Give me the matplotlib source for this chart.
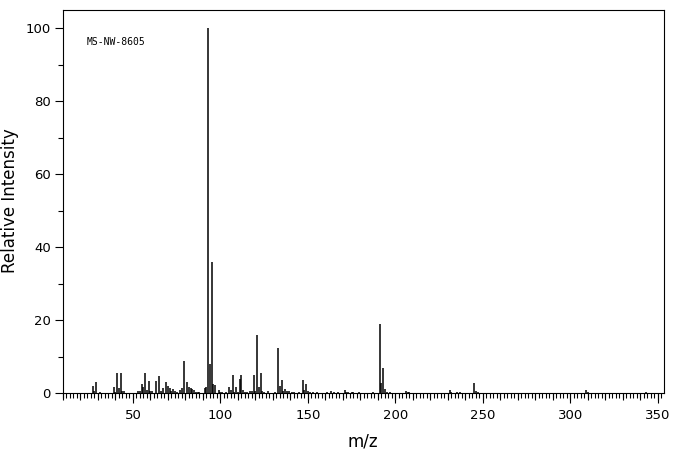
import matplotlib
matplotlib.use("Agg")

import matplotlib.pyplot as plt
from matplotlib.ticker import MultipleLocator, NullFormatter

# mass spectrum peaks (m/z, relative intensity)
mz = [27, 28, 29, 31, 39, 40, 41, 42, 43, 44, 45, 53, 54, 55, 56, 57, 58, 59,
      60, 61, 63, 65, 66, 67, 69, 70, 71, 72, 73, 74, 75, 77, 78, 79, 81, 82,
      83, 84, 85, 86, 87, 88, 91, 92, 93, 94, 95, 96, 97, 99, 100, 101, 103,
      105, 106, 107, 108, 109, 110, 111, 112, 113, 114, 115, 117, 118, 119,
      120, 121, 122, 123, 124, 125, 127, 131, 133, 134, 135, 136, 137, 138,
      139, 141, 142, 145, 147, 148, 149, 150, 151, 153, 155, 161, 163, 165,
      167, 171, 172, 173, 175, 176, 179, 187, 191, 192, 193, 194, 195, 197,
      206, 207, 208, 231, 232, 235, 237, 245, 246, 247, 309, 310, 343]
intensity = [2.0, 0.6, 3.1, 0.3, 1.7, 0.4, 5.4, 1.5, 5.4, 0.6, 0.5, 0.6, 0.6,
             2.6, 1.7, 5.6, 0.9, 3.4, 0.5, 0.5, 3.2, 4.7, 0.5, 1.5, 2.9, 2.0,
             1.5, 0.5, 1.2, 0.5, 0.3, 0.7, 1.4, 8.9, 3.1, 1.6, 1.3, 1.0, 0.8,
             0.3, 0.3, 0.3, 1.5, 1.7, 100.0, 8.0, 36.0, 2.6, 2.3, 0.9, 0.4,
             0.4, 0.3, 1.7, 0.7, 5.0, 0.4, 1.7, 0.4, 3.9, 5.0, 0.9, 0.4, 0.4,
             0.6, 0.5, 5.0, 0.6, 16.0, 1.6, 5.6, 0.6, 0.4, 0.6, 0.4, 12.4,
             2.0, 3.7, 0.6, 1.2, 0.6, 0.6, 0.4, 0.4, 0.4, 3.7, 0.7, 2.6, 0.6,
             0.4, 0.4, 0.4, 0.4, 0.6, 0.4, 0.4, 0.9, 0.4, 0.4, 0.4, 0.4, 0.4,
             0.4, 18.9, 2.7, 6.8, 1.1, 0.4, 0.4, 0.5, 0.4, 0.4, 0.8, 0.4, 0.4,
             0.4, 2.7, 0.6, 0.4, 0.8, 0.4, 0.4]

sample_id = "MS-NW-8605"

W, H = 676, 455
fig = plt.figure(figsize=(W / 100, H / 100), dpi=100)
ax = fig.add_axes([63 / W, 62 / H, 601 / W, 383 / H])

ax.vlines(mz, 0, intensity, colors="black", linewidth=1.1)

ax.set_xlim(10, 353.5)
ax.set_ylim(0, 105)

for side in ("left", "right", "top", "bottom"):
    ax.spines[side].set_linewidth(0.8)

ax.xaxis.set_major_locator(MultipleLocator(50))
ax.xaxis.set_minor_locator(MultipleLocator(2))
ax.yaxis.set_major_locator(MultipleLocator(20))
ax.yaxis.set_minor_locator(MultipleLocator(10))
ax.tick_params(axis="x", which="major", length=7.2, width=0.8, pad=4, labelsize=9.5)
ax.tick_params(axis="x", which="minor", length=3.6, width=0.8)
ax.tick_params(axis="y", which="major", length=5.8, width=0.8, pad=3, labelsize=9.5)
ax.tick_params(axis="y", which="minor", length=3.6, width=0.8)

# medium ticks every 10 on the m/z axis
sec = ax.secondary_xaxis("bottom")
sec.xaxis.set_major_locator(MultipleLocator(10))
sec.xaxis.set_major_formatter(NullFormatter())
sec.tick_params(axis="x", length=5, width=0.8)
sec.spines["bottom"].set_visible(False)

ax.text(0.04, 0.917, sample_id, transform=ax.transAxes, ha="left", va="center",
        fontsize=7, family="DejaVu Sans Mono")

fig.text(10 / W, 1 - 201 / H, "Relative Intensity", rotation=90,
         ha="center", va="center", fontsize=12)
fig.text(363 / W, 1 - 441 / H, "m/z", ha="center", va="center", fontsize=12)

fig.savefig("out.png", dpi=100)
plt.close(fig)
